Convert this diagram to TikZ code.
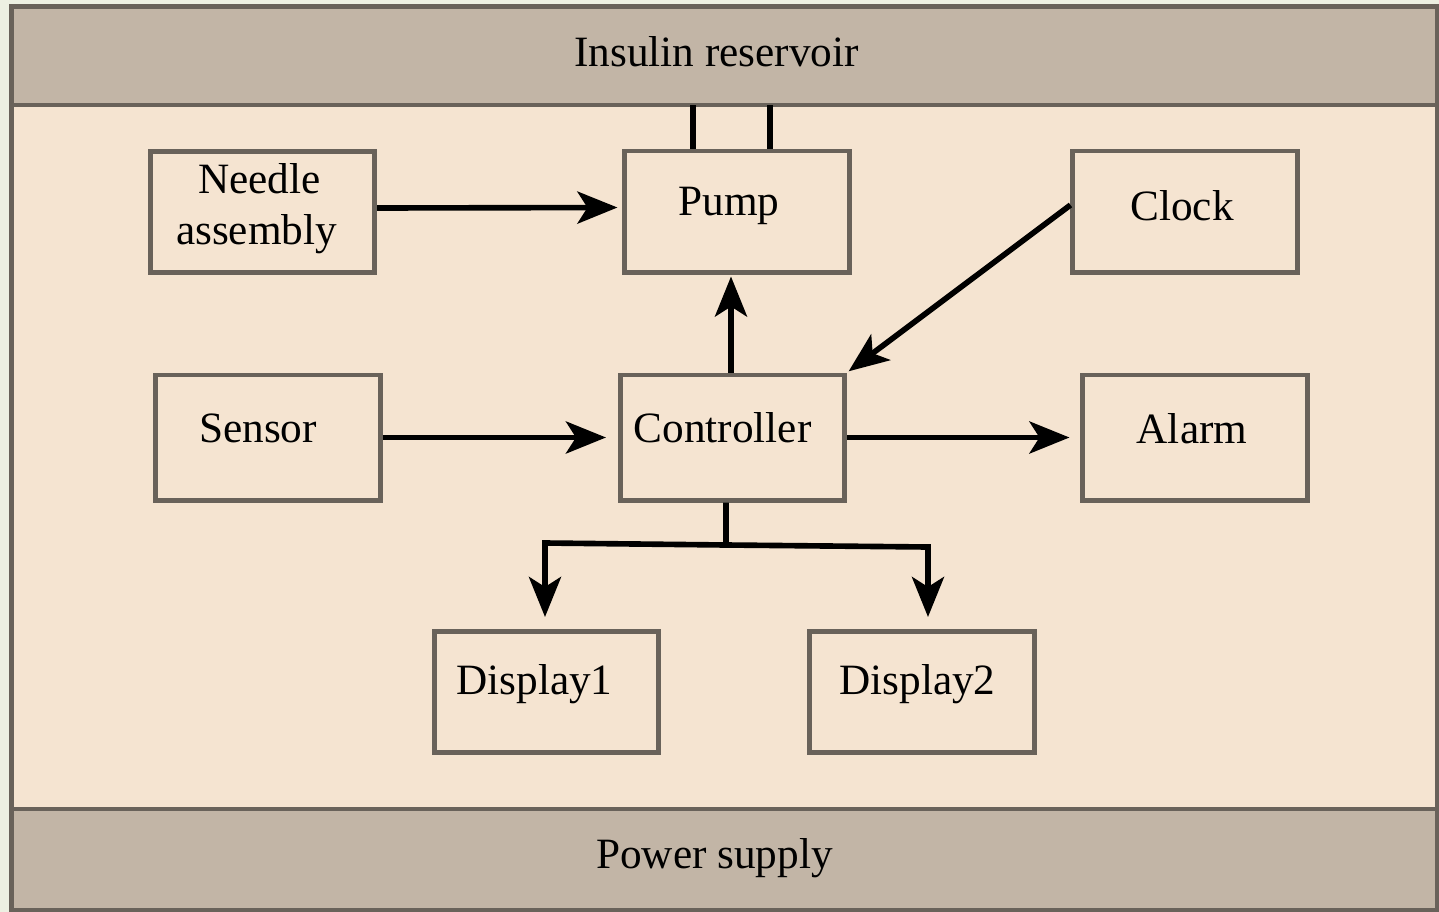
\documentclass[tikz,border=0pt]{standalone}
\usepackage{fontspec}
\setmainfont{Liberation Serif}
\usetikzlibrary{arrows.meta}
\definecolor{outerbg}{HTML}{EDF0E2}
\definecolor{frameline}{HTML}{69625A}
\definecolor{bandfill}{HTML}{C2B5A6}
\definecolor{innerfill}{HTML}{F5E4D1}
% move a label off the box centre without changing the box
\newcommand{\shiftlbl}[3]{\raisebox{#2}[\height][\depth]{\hspace*{#1}#3\hspace*{-#1}}}
\tikzset{
  unit/.style={draw=frameline,line width=1.4pt,fill=innerfill,minimum width=2.24cm,minimum height=1.21cm,
               inner sep=0pt,align=center,font=\fontsize{12.3}{14.5}\selectfont},
  band/.style={draw=frameline,line width=1.4pt,fill=bandfill,minimum width=14.26cm,inner sep=0pt,
               font=\fontsize{12.3}{14.5}\selectfont},
  feed/.style={draw=black,line width=1.6pt},
  flow/.style={feed,-{Stealth[length=4mm,width=3.2mm,inset=1mm]}},
}

\begin{document}
\begin{tikzpicture}[x=0.01cm,y=-0.01cm]
  \useasboundingbox (0,0) rectangle (1439,912);
  \fill[outerbg] (0,0) rectangle (1439,912);
  % casing: reservoir on top, power supply at the bottom
  \draw[frameline,line width=1.4pt,fill=innerfill] (11.5,105) rectangle (1437.5,809);
  \node[band,minimum height=0.985cm] (res) at (724.5,55.75){\shiftlbl{-0.8mm}{0.4mm}{Insulin reservoir}};
  \node[band,minimum height=1.015cm] (pwr) at (724.5,859.75){\shiftlbl{-1mm}{0.2mm}{Power supply}};

  % components
  \node[unit] (ndl) at (262.5,212){\shiftlbl{-0.3mm}{0.3mm}{Needle}\\\shiftlbl{-0.6mm}{0.3mm}{assembly}};
  \node[unit] (pmp) at (737,211.5){\shiftlbl{-0.8mm}{0.6mm}{Pump}};
  \node[unit] (clk) at (1185,211.5){\shiftlbl{-0.3mm}{0.6mm}{Clock}};
  \node[unit,minimum height=1.25cm] (sen) at (268,437.5){\shiftlbl{-1mm}{0.95mm}{Sensor}};
  \node[unit,minimum height=1.25cm] (ctl) at (732.5,437.5){\shiftlbl{-1mm}{0.95mm}{Controller}};
  \node[unit,minimum height=1.25cm] (alm) at (1195,437.5){\shiftlbl{-0.3mm}{0.9mm}{Alarm}};
  \node[unit] (dsp1) at (546.5,692){\shiftlbl{-1.2mm}{0.75mm}{Display1}};
  \node[unit] (dsp2) at (922,692){\shiftlbl{-0.45mm}{0.75mm}{Display2}};

  % insulin feed from the reservoir into the pump
  \coordinate (f1) at (693,105); \coordinate (f2) at (770,105);
  \draw[feed] (f1) -- (f1 |- pmp.north);
  \draw[feed] (f2) -- (f2 |- pmp.north);

  \draw[flow,shorten >=0.5mm] ([yshift=0.4mm]ndl.east) -- ([yshift=0.4mm]pmp.west);
  \draw[flow,shorten >=0.2mm] ([xshift=-0.15mm]ctl.north) -- ([xshift=-0.15mm]ctl.north |- pmp.south);
  \draw[flow,shorten >=0.2mm] ([yshift=0.65mm]clk.west) -- (ctl.north east);
  \draw[flow,shorten >=1.2mm] (sen.east) -- (ctl.west);
  \draw[flow,shorten >=1.1mm] (ctl.east) -- (alm.west);

  % split to both displays
  \coordinate (jn) at (726,545); \coordinate (jl) at (545,543); \coordinate (jr) at (928,547);
  \draw[feed] ([xshift=-0.65mm]ctl.south) -- (jn);
  \draw[flow,shorten >=1.2mm] (jn) -- (jl) -- (jl |- dsp1.north);
  \draw[flow,shorten >=1.2mm] (jn) -- (jr) -- (jr |- dsp2.north);
\end{tikzpicture}
\end{document}
